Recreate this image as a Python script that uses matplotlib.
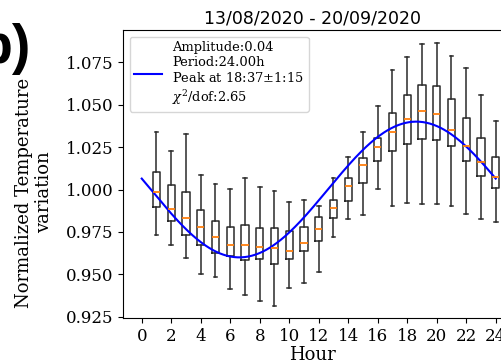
import numpy as np
import matplotlib
matplotlib.use("Agg")
import matplotlib.pyplot as plt

plt.rcParams["font.family"] = ["DejaVu Serif"]
plt.rcParams["mathtext.fontset"] = "dejavuserif"

# Hourly distribution of normalized temperature (boxes at hours 1..24)
hours = list(range(1, 25))
whisker_low = [0.9730, 0.9673, 0.9594, 0.9504, 0.9484, 0.9415, 0.9378, 0.9343,
               0.9315, 0.9419, 0.9449, 0.9512, 0.9722, 0.9828, 0.9850, 1.0005,
               0.9903, 0.9922, 0.9916, 0.9915, 0.9901, 0.9857, 0.9826, 0.9807]
q1 = [0.9895, 0.9814, 0.9732, 0.9671, 0.9624, 0.9610, 0.9586, 0.9588,
      0.9559, 0.9588, 0.9636, 0.9698, 0.9832, 0.9934, 1.0037, 1.0170,
      1.0225, 1.0270, 1.0298, 1.0290, 1.0255, 1.0166, 1.0081, 1.0007]
median = [0.9983, 0.9885, 0.9830, 0.9779, 0.9722, 0.9673, 0.9673, 0.9659,
          0.9657, 0.9636, 0.9686, 0.9767, 0.9893, 1.0019, 1.0143, 1.0251,
          1.0339, 1.0416, 1.0463, 1.0447, 1.0353, 1.0258, 1.0164, 1.0075]
q3 = [1.0101, 1.0027, 0.9983, 0.9881, 0.9812, 0.9777, 0.9791, 0.9775,
      0.9775, 0.9757, 0.9777, 0.9836, 0.9940, 1.0069, 1.0188, 1.0302,
      1.0453, 1.0555, 1.0616, 1.0612, 1.0535, 1.0422, 1.0305, 1.0193]
whisker_high = [1.0341, 1.0229, 1.0327, 1.0084, 1.0034, 1.0005, 1.0069, 1.0013,
                0.9989, 0.9925, 0.9938, 0.9903, 1.0069, 1.0192, 1.0339, 1.0494,
                1.0703, 1.0779, 1.0858, 1.0862, 1.0785, 1.0718, 1.0557, 1.0406]

# Sinusoidal fit parameters
amplitude = 0.04
period = 24.0
peak_hour = 18 + 37 / 60
offset = 1.0
chi2_dof = 2.65

fit_label = ("Amplitude:0.04\nPeriod:24.00h\nPeak at 18:37$\\pm$1:15\n"
             "$\\chi^2$/dof:2.65")

W, H = 502, 363
fig = plt.figure(figsize=(W / 100, H / 100), dpi=100)
ax_left, ax_right, ax_top, ax_bottom = 123.3, 502.5, 30.0, 318.3
ax = fig.add_axes([ax_left / W, 1 - ax_bottom / H,
                   (ax_right - ax_left) / W, (ax_bottom - ax_top) / H])

stats = [dict(med=m, q1=a, q3=b, whislo=lo, whishi=hi, label=str(h))
         for h, lo, a, m, b, hi in zip(hours, whisker_low, q1, median, q3, whisker_high)]
line_col = "#2a2a2a"
ax.bxp(stats, positions=hours, widths=0.5, showfliers=False,
       boxprops=dict(color=line_col, linewidth=1.1),
       whiskerprops=dict(color=line_col, linewidth=1.1),
       capprops=dict(color=line_col, linewidth=1.1),
       medianprops=dict(color="#ff7f0e", linewidth=1.3))

t = np.linspace(0, 24, 400)
fit = offset + amplitude * np.cos(2 * np.pi * (t - peak_hour) / period)
ax.plot(t, fit, color="blue", linewidth=1.5, label=fit_label)

ax.set_xlim(-1.25, 24.46)
ax.set_ylim(0.9241, 1.0940)
ax.set_xticks(np.arange(0, 25, 2))
ax.set_xticklabels([str(v) for v in range(0, 25, 2)])
ax.set_yticks([0.925, 0.950, 0.975, 1.000, 1.025, 1.050, 1.075])
ax.tick_params(labelsize=12)
ax.spines["right"].set_visible(False)

ax.set_title("13/08/2020 - 20/09/2020", family="DejaVu Sans", fontsize=12.5, pad=5)
ax.set_xlabel("Hour", fontsize=13, labelpad=1)
fig.text(34 / W, 1 - 192.5 / H, "Normalized Temperature\nvariation", rotation=90,
         ha="center", va="center", multialignment="center", fontsize=13)
fig.text(-22 / W, 1 - 63 / H, "b)", family="Liberation Sans", fontweight="bold",
         fontsize=40, ha="left", va="baseline")

ax.legend(loc="upper left", fontsize=9.4, handlelength=2.1, borderpad=0.35)

fig.savefig("out.png", dpi=100)
